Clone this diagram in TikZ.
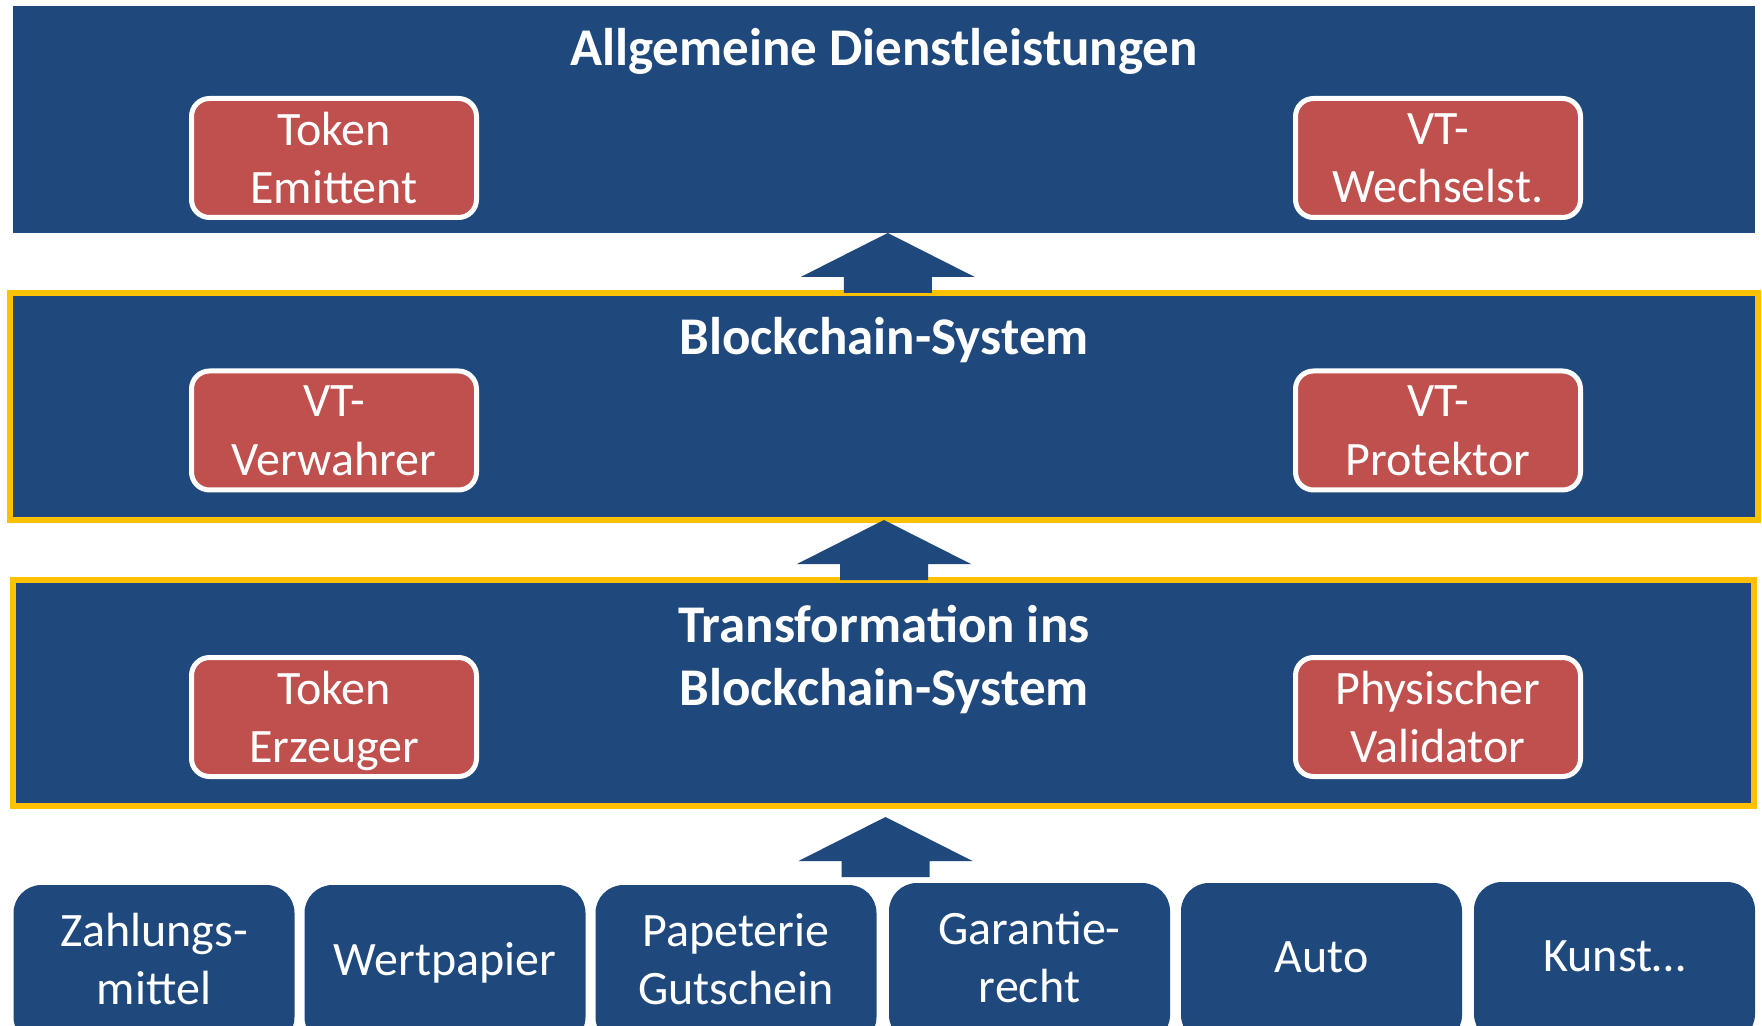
\documentclass[tikz,border=0pt]{standalone}
\usepackage{fontspec}
\setmainfont{Carlito}
\usetikzlibrary{calc}
\definecolor{navy}{HTML}{1F497D}
\definecolor{brick}{HTML}{C0504D}
\definecolor{amber}{HTML}{FFC000}
% block arrow pointing up, drawn from its tip
\newcommand{\liftarrow}[1]{%
  \fill[navy] (#1) -- ++(87,44) -- ++(-43,0) -- ++(0,16) -- ++(-88,0)
    -- ++(0,-16) -- ++(-43,0) -- cycle;}
\begin{document}
\begin{tikzpicture}[x=0.5pt,y=-0.5pt,
  band/.style={fill=navy, inner sep=0pt, outer sep=0pt},
  goldband/.style={band, draw=amber, line width=3pt},
  title/.style={text=white, font=\fontsize{26.5}{31.5}\selectfont\bfseries, align=center},
  role/.style={fill=brick, draw=white, line width=2.5pt, rounded corners=9pt,
    minimum width=142.5pt, minimum height=59.5pt, inner sep=0pt, text=white,
    align=center, text depth=0pt, font=\fontsize{24}{29.2}\selectfont},
  asset/.style={fill=navy, rounded corners=14pt, minimum width=140.5pt,
    minimum height=80pt, inner sep=0pt, text=white, align=center,
    text depth=6pt, font=\fontsize{24}{28.8}\selectfont}
]
\clip (0,0) rectangle (1762,1026);
\fill[white] (0,0) rectangle (1762,1026);

% three layers
\node[band, minimum width=871.25pt, minimum height=113.5pt] (top) at (883.75,119.5) {};
\node[goldband, minimum width=874pt, minimum height=113.5pt] (mid) at (884,406.5) {};
\node[goldband, minimum width=870.5pt, minimum height=113pt] (low) at (883.5,693) {};

% layer titles
\node[title, anchor=base] (ttop) at (884,66) {Allgemeine Dienstleistungen};
\node[title, anchor=base] (tmid) at (884,355) {Blockchain-System};
\node[title] (tlow) at (884,660) {Transformation ins\\Blockchain-System};

% roles
\node[role] (emit) at (334,158) {Token\\Emittent};
\node[role] (swap) at (1438,158) {VT-\\Wechselst.};
\node[role] (keep) at (334,430.5) {VT-\\Verwahrer};
\node[role] (prot) at (1438,430.5) {VT-\\Protektor};
\node[role] (make) at (334,717) {Token\\Erzeuger};
\node[role] (vali) at (1438,717) {Physischer\\Validator};

% assets
\node[asset] (a1) at (154,965) {Zahlungs-\\mittel};
\node[asset] (a2) at (445,965) {Wertpapier};
\node[asset] (a3) at (736,965) {Papeterie\\Gutschein};
\node[asset] (a4) at (1029.5,963) {Garantie-\\recht};
\node[asset] (a5) at (1321.5,963) {Auto};
\node[asset] (a6) at (1614.5,962) {Kunst…};

% arrows between layers
\liftarrow{$(top.south)+(4,0)$}
\liftarrow{mid.south}
\liftarrow{$(low.south)+(2,11)$}
\end{tikzpicture}
\end{document}
